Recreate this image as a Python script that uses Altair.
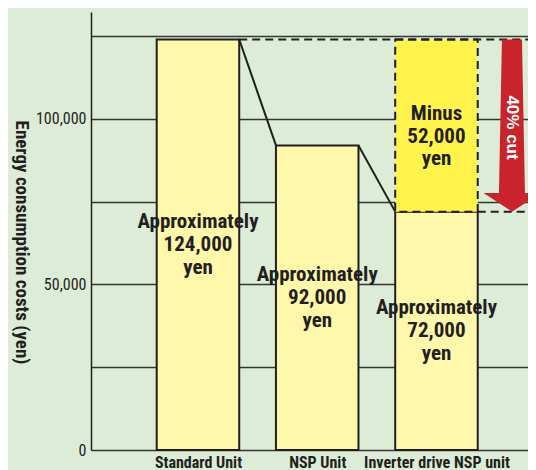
import altair as alt
import pandas as pd

# ---- data ----
categories = ["Standard Unit", "NSP Unit", "Inverter drive NSP unit"]
costs = [124000, 92000, 72000]
cost_labels = ["Approximately\n124,000\nyen", "Approximately\n92,000\nyen", "Approximately\n72,000\nyen"]
saving_label = "Minus\n52,000\nyen"
cut_label = "40% cut"
grid_values = [0, 25000, 50000, 75000, 100000, 125000]
y_title = "Energy consumption costs (yen)"

# ---- layout / style ----
PAD_L = 83
W, H = 437, 438
STEP_PX = 119.25
Y_MAX = 132300
X_MIN = -0.897
X_MAX = X_MIN + W / STEP_PX
HW = 0.346
BG = "#dcecd6"
INK = "#231f20"
COND = "Roboto Condensed"
WIDE = "Liberation Sans"

xs = alt.Scale(domain=[X_MIN, X_MAX], nice=False, zero=False)
ys = alt.Scale(domain=[0, Y_MAX], nice=False)

n = len(categories)
bars_df = pd.DataFrame({
    "idx": list(range(n)),
    "cat": categories,
    "cost": costs,
    "label": cost_labels,
})
bars_df["x0"] = bars_df["idx"] - HW
bars_df["x1"] = bars_df["idx"] + HW
bars_df["zero"] = 0
bars_df["label_y"] = bars_df["cost"] / 2 + 5000

label_expr = "[" + ",".join("'" + c + "'" for c in categories) + "][datum.value]"

bars = alt.Chart(bars_df).mark_rect(
    fill="#fff7aa", stroke=INK, strokeWidth=2
).encode(
    x=alt.X("x0:Q", scale=xs, title=None, axis=alt.Axis(
        values=list(range(n)), labelExpr=label_expr,
        domain=False, ticks=False, grid=False, labelPadding=4,
        labelFont=COND, labelFontWeight="bold", labelFontSize=16,
        labelColor=INK, labelBaseline="top")),
    x2="x1:Q",
    y=alt.Y("cost:Q", scale=ys, title=y_title, axis=alt.Axis(
        values=grid_values, labelExpr="datum.value % 50000 == 0 ? format(datum.value, ',') : ''",
        grid=True, gridColor="#353535", gridWidth=1.5,
        domain=True, domainColor=INK, domainWidth=1.5, ticks=False,
        labelPadding=5, labelFont=COND, labelFontSize=16, labelColor=INK,
        titleAngle=90, titleFont=COND, titleFontWeight="bold",
        titleFontSize=19, titleColor=INK, titleX=-70, titleY=230,
        titleAlign="center", titleBaseline="middle")),
    y2="zero:Q",
)

# savings box (from inverter cost up to standard cost)
box_df = pd.DataFrame({
    "x0": [n - 1 - HW], "x1": [n - 1 + HW],
    "lo": [costs[-1]], "hi": [costs[0]],
})
box = alt.Chart(box_df).mark_rect(
    fill="#fff34c", stroke=INK, strokeWidth=2, strokeDash=[8, 5]
).encode(
    x=alt.X("x0:Q", scale=xs), x2="x1:Q",
    y=alt.Y("lo:Q", scale=ys), y2="hi:Q",
)

# connecting slanted lines
conn_df = pd.DataFrame({
    "x": [i + HW for i in range(n - 1)],
    "x2": [i + 1 - HW for i in range(n - 1)],
    "y": costs[:-1],
    "y2": costs[1:],
})
conn = alt.Chart(conn_df).mark_rule(color=INK, strokeWidth=2).encode(
    x=alt.X("x:Q", scale=xs), x2="x2:Q",
    y=alt.Y("y:Q", scale=ys), y2="y2:Q",
)

# dashed reference lines
dash_df = pd.DataFrame({
    "x": [0 + HW, n - 1 + HW],
    "x2": [X_MAX, X_MAX],
    "y": [costs[0], costs[-1]],
})
dashes = alt.Chart(dash_df).mark_rule(color=INK, strokeWidth=2, strokeDash=[8, 5]).encode(
    x=alt.X("x:Q", scale=xs), x2="x2:Q",
    y=alt.Y("y:Q", scale=ys),
)

# red arrow: tapered shaft + head
AX = 2.633
head_top = costs[-1] + 5600
shaft_df = pd.DataFrame({
    "y": [costs[0], head_top],
    "xl": [AX - 0.084, AX - 0.109],
    "xr": [AX + 0.084, AX + 0.109],
})
head_df = pd.DataFrame({
    "y": [head_top, costs[-1]],
    "xl": [AX - 0.239, AX],
    "xr": [AX + 0.239, AX],
})
RED = "#c9232c"
shaft = alt.Chart(shaft_df).mark_area(orient="horizontal", color=RED, clip=True).encode(
    y=alt.Y("y:Q", scale=ys),
    x=alt.X("xl:Q", scale=xs), x2="xr:Q",
)
head = alt.Chart(head_df).mark_area(orient="horizontal", color=RED, clip=True).encode(
    y=alt.Y("y:Q", scale=ys),
    x=alt.X("xl:Q", scale=xs), x2="xr:Q",
)

arrow_text = alt.Chart(pd.DataFrame({"x": [AX], "y": [97400], "t": [cut_label]})).mark_text(
    angle=90, align="center", baseline="middle", color="white",
    font=WIDE, fontWeight="bold", fontSize=17
).encode(
    x=alt.X("x:Q", scale=xs),
    y=alt.Y("y:Q", scale=ys),
    text="t:N",
)

bar_text = alt.Chart(bars_df).mark_text(
    align="center", baseline="alphabetic", lineBreak="\n", lineHeight=23,
    font=COND, fontWeight="bold", fontSize=21, color=INK
).encode(
    x=alt.X("idx:Q", scale=xs),
    y=alt.Y("label_y:Q", scale=ys),
    text="label:N",
)

saving_text = alt.Chart(pd.DataFrame({
    "x": [n - 1], "y": [costs[-1] + 0.53 * (costs[0] - costs[-1])], "t": [saving_label]
})).mark_text(
    align="center", baseline="alphabetic", lineBreak="\n", lineHeight=22.5,
    font=COND, fontWeight="bold", fontSize=21, color=INK
).encode(
    x=alt.X("x:Q", scale=xs),
    y=alt.Y("y:Q", scale=ys),
    text="t:N",
)

chart = alt.layer(
    bars, box, conn, dashes, shaft, head, arrow_text, bar_text, saving_text
).properties(
    width=W, height=H,
    padding={"left": PAD_L, "top": 4, "right": 0, "bottom": 20},
    autosize=alt.AutoSizeParams(type="none"),
    background=BG,
).configure_view(strokeWidth=0)

chart.save("out.html", embed_options={"renderer": "svg", "actions": False})
